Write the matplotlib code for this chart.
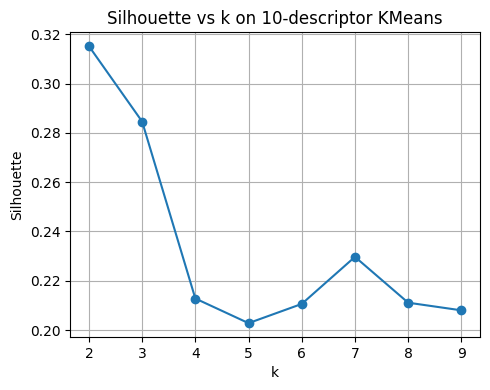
import matplotlib
matplotlib.use("Agg")
import matplotlib.pyplot as plt

k_values = [2, 3, 4, 5, 6, 7, 8, 9]
silhouette = [0.3152, 0.2846, 0.2128, 0.2028, 0.2106, 0.2297, 0.2111, 0.2080]

fig, ax = plt.subplots(figsize=(4.9, 3.9), dpi=100)
ax.plot(k_values, silhouette, marker="o")
ax.set_title("Silhouette vs k on 10-descriptor KMeans")
ax.set_xlabel("k")
ax.set_ylabel("Silhouette")
ax.grid(True)
fig.subplots_adjust(left=70.3/490, right=480/490, top=1 - 32.3/390, bottom=1 - 337/390)
fig.savefig("out.png", dpi=100)
